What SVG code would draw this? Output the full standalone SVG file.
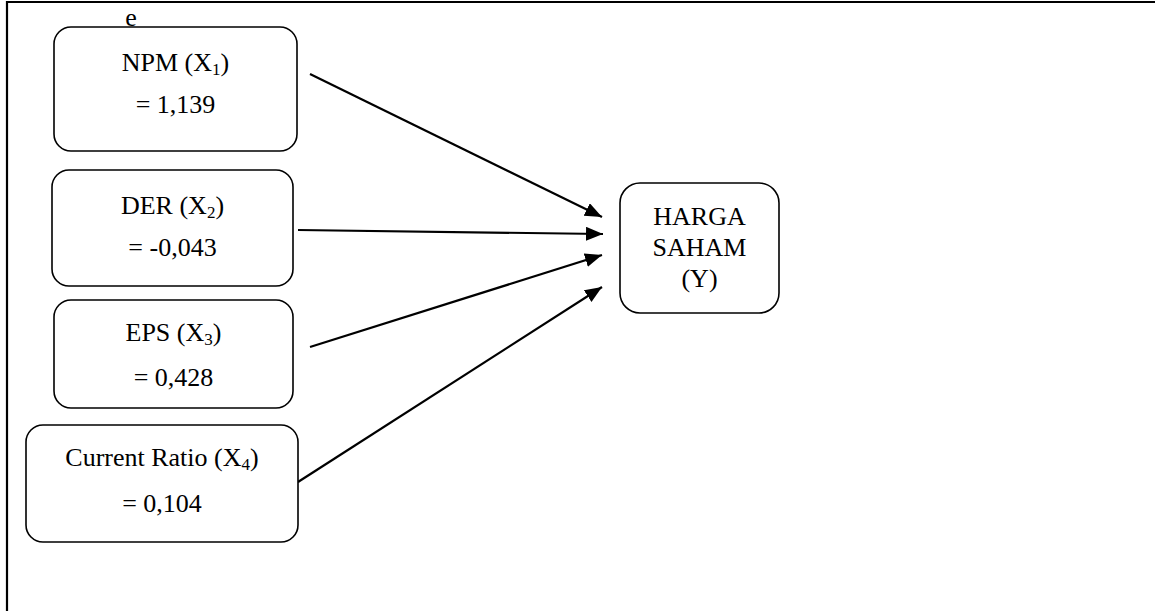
<svg xmlns="http://www.w3.org/2000/svg" width="1155" height="611" viewBox="0 0 1155 611">
  <style>
    .box { fill: #ffffff; stroke: #000000; stroke-width: 1.6; }
    .lbl { font-family: "Liberation Serif", "Times New Roman", serif; font-size: 26px; fill: #000000; text-anchor: middle; }
    .sub { font-size: 17px; }
    .conn { stroke: #000000; stroke-width: 2.2; fill: none; marker-end: url(#arrow); }
  </style>
  <defs>
    <marker id="arrow" markerUnits="userSpaceOnUse" markerWidth="18" markerHeight="16" refX="17" refY="7" orient="auto">
      <path d="M0,0 L17,7 L0,14 Z" fill="#000000"/>
    </marker>
  </defs>
  <rect x="0" y="0" width="1155" height="611" fill="#ffffff"/>
  <path d="M7,611 V2 H1155" fill="none" stroke="#000000" stroke-width="2.2"/>
  <text class="lbl" x="131" y="26">e</text>

  <g id="connectors">
    <line class="conn" x1="310" y1="74" x2="602" y2="217"/>
    <line class="conn" x1="298" y1="230" x2="603" y2="234"/>
    <line class="conn" x1="310" y1="347" x2="602" y2="255"/>
    <line class="conn" x1="298" y1="482" x2="602" y2="287"/>
  </g>

  <g id="node-npm">
    <rect class="box" x="54" y="27" width="243" height="124" rx="17"/>
    <text class="lbl" x="175.5" y="71">NPM (X<tspan class="sub" dy="4">1</tspan><tspan dy="-4">)</tspan></text>
    <text class="lbl" x="175.5" y="113">= 1,139</text>
  </g>
  <g id="node-der">
    <rect class="box" x="52" y="170" width="241" height="116" rx="17"/>
    <text class="lbl" x="172.5" y="214">DER (X<tspan class="sub" dy="4">2</tspan><tspan dy="-4">)</tspan></text>
    <text class="lbl" x="172.5" y="256">= -0,043</text>
  </g>
  <g id="node-eps">
    <rect class="box" x="54" y="300" width="239" height="108" rx="17"/>
    <text class="lbl" x="173.5" y="341">EPS (X<tspan class="sub" dy="4">3</tspan><tspan dy="-4">)</tspan></text>
    <text class="lbl" x="173.5" y="386">= 0,428</text>
  </g>
  <g id="node-cr">
    <rect class="box" x="26" y="425" width="272" height="117" rx="17"/>
    <text class="lbl" x="162" y="466">Current Ratio (X<tspan class="sub" dy="4">4</tspan><tspan dy="-4">)</tspan></text>
    <text class="lbl" x="162" y="512">= 0,104</text>
  </g>
  <g id="node-harga">
    <rect class="box" x="620" y="183" width="159" height="130" rx="20"/>
    <text class="lbl" x="699.5" y="225">HARGA</text>
    <text class="lbl" x="699.5" y="256">SAHAM</text>
    <text class="lbl" x="699.5" y="287">(Y)</text>
  </g>
</svg>
